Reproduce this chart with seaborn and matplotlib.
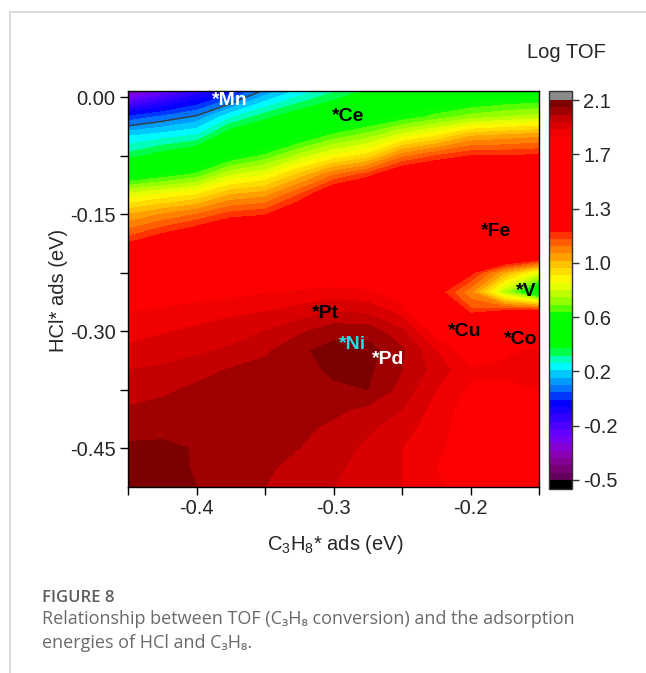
import numpy as np
import seaborn as sns
import matplotlib
matplotlib.use("Agg")
import matplotlib.pyplot as plt
from matplotlib.colors import LinearSegmentedColormap
from matplotlib.ticker import MultipleLocator, FormatStrFormatter
from matplotlib.lines import Line2D

# ---------------- data ----------------
c3h8_ads = [-0.45, -0.425, -0.40, -0.375, -0.35, -0.325, -0.30,
            -0.275, -0.25, -0.225, -0.20, -0.175, -0.15]
hcl_ads = [0.01, -0.025, -0.05, -0.075, -0.10, -0.125, -0.15, -0.175,
           -0.20, -0.225, -0.25, -0.275, -0.30, -0.325, -0.35, -0.375,
           -0.40, -0.425, -0.45, -0.475, -0.50]
log_tof = [
    [-0.35, -0.22, -0.10, 0.00, 0.15, 0.25, 0.33, 0.40, 0.45, 0.48, 0.50, 0.52, 0.53],
    [0.06, 0.11, 0.16, 0.29, 0.38, 0.45, 0.50, 0.56, 0.61, 0.67, 0.72, 0.75, 0.77],
    [0.25, 0.28, 0.31, 0.46, 0.50, 0.58, 0.67, 0.73, 0.83, 0.90, 1.00, 1.02, 1.04],
    [0.37, 0.43, 0.48, 0.59, 0.66, 0.77, 0.86, 0.92, 1.08, 1.15, 1.20, 1.20, 1.21],
    [0.57, 0.62, 0.67, 0.80, 0.85, 0.97, 1.10, 1.18, 1.30, 1.35, 1.38, 1.40, 1.40],
    [0.82, 0.86, 0.90, 1.00, 1.03, 1.15, 1.30, 1.35, 1.45, 1.45, 1.45, 1.45, 1.45],
    [1.00, 1.05, 1.10, 1.17, 1.19, 1.30, 1.42, 1.45, 1.50, 1.50, 1.50, 1.50, 1.50],
    [1.13, 1.20, 1.26, 1.33, 1.35, 1.45, 1.50, 1.52, 1.55, 1.55, 1.52, 1.50, 1.50],
    [1.28, 1.34, 1.40, 1.45, 1.50, 1.55, 1.58, 1.60, 1.60, 1.55, 1.50, 1.45, 1.40],
    [1.55, 1.60, 1.65, 1.68, 1.72, 1.75, 1.78, 1.78, 1.72, 1.50, 1.22, 1.00, 0.82],
    [1.80, 1.81, 1.82, 1.83, 1.845, 1.86, 1.87, 1.86, 1.80, 1.24, 1.06, 0.75, 0.48],
    [1.848, 1.86, 1.875, 1.89, 1.90, 1.92, 1.95, 1.94, 1.88, 1.60, 1.17, 1.22, 1.25],
    [1.88, 1.895, 1.91, 1.925, 1.95, 1.99, 2.03, 2.03, 1.96, 1.82, 1.50, 1.55, 1.60],
    [1.91, 1.925, 1.94, 1.96, 1.99, 2.04, 2.07, 2.07, 2.01, 1.90, 1.80, 1.84, 1.86],
    [1.95, 1.96, 1.98, 2.005, 2.02, 2.03, 2.06, 2.06, 2.00, 1.93, 1.86, 1.86, 1.87],
    [1.975, 1.99, 2.01, 2.02, 2.03, 2.03, 2.04, 2.05, 1.98, 1.90, 1.84, 1.84, 1.85],
    [2.005, 2.015, 2.02, 2.03, 2.03, 2.02, 2.01, 1.99, 1.95, 1.88, 1.82, 1.82, 1.82],
    [2.03, 2.03, 2.03, 2.03, 2.02, 2.01, 1.99, 1.96, 1.92, 1.87, 1.82, 1.80, 1.80],
    [2.06, 2.065, 2.045, 2.03, 2.02, 2.00, 1.97, 1.94, 1.90, 1.86, 1.82, 1.80, 1.78],
    [2.07, 2.07, 2.045, 2.03, 2.01, 1.98, 1.96, 1.93, 1.90, 1.85, 1.81, 1.79, 1.77],
    [2.08, 2.075, 2.05, 2.03, 2.00, 1.97, 1.95, 1.92, 1.90, 1.86, 1.82, 1.80, 1.78],
]

metals = ["*Mn", "*Ce", "*Fe", "*V", "*Pt", "*Ni", "*Pd", "*Cu", "*Co"]
metal_c3h8 = [-0.376, -0.289, -0.181, -0.159, -0.306, -0.286, -0.260, -0.204, -0.163]
metal_hcl = [-0.004, -0.025, -0.172, -0.249, -0.277, -0.317, -0.336, -0.301, -0.311]
metal_colors = ["white", "black", "black", "black", "black", "#22dde8", "white", "black", "black"]

cbar_labels = ["-0.5", "-0.2", "0.2", "0.6", "1.0", "1.3", "1.7", "2.1"]
vmin, vmax = -0.5, 2.1

# ---------------- style ----------------
sns.set_theme(style="ticks")
plt.rcParams["font.family"] = ["Liberation Sans", "DejaVu Sans"]
plt.rcParams["axes.unicode_minus"] = False
plt.rcParams["mathtext.fontset"] = "custom"
plt.rcParams["mathtext.rm"] = "Liberation Sans"
plt.rcParams["mathtext.it"] = "Liberation Sans:italic"
plt.rcParams["mathtext.bf"] = "Liberation Sans:bold"

nodes = [(-0.5, "#5a0050"), (-0.4, "#800080"), (-0.3, "#8c00c8"), (-0.2, "#7000ff"),
         (-0.07, "#3000ff"), (0.03, "#0000ff"), (0.12, "#0070ff"), (0.2, "#00b0ff"),
         (0.28, "#00ffff"), (0.35, "#00ff90"), (0.40, "#00ff00"), (0.62, "#00ff00"),
         (0.70, "#80ff00"), (0.80, "#d0ff00"), (0.86, "#ffff00"), (0.95, "#ffd000"),
         (1.05, "#ff9000"), (1.15, "#ff5000"), (1.22, "#ff0000"), (1.85, "#ff0000"),
         (1.875, "#f20000"), (1.925, "#dc0000"), (1.975, "#c40000"),
         (2.025, "#a00000"), (2.075, "#7e0000"), (2.1, "#700000")]
cmap = LinearSegmentedColormap.from_list(
    "origin_rainbow", [((v - vmin) / (vmax - vmin), c) for v, c in nodes], N=1024)
cmap.set_over("#8a8a8a")
cmap.set_under("#000000")

W, H = 646, 673
fig = plt.figure(figsize=(W / 100, H / 100), dpi=100)
fig.patch.set_facecolor("white")
ax = fig.add_axes([128 / W, 1 - 487 / H, 411 / W, 396 / H])
cax = fig.add_axes([549 / W, 1 - 489 / H, 23 / W, 398 / H])

X, Y = np.meshgrid(c3h8_ads, hcl_ads)
Z = np.array(log_tof)
levels = np.linspace(vmin, vmax, 53)
cs = ax.contourf(X, Y, Z, levels=levels, cmap=cmap, vmin=vmin, vmax=vmax, extend="both")
ax.contour(X, Y, Z, levels=[0.15], colors="#3a3a3a", linewidths=1.0)

for name, mx, my, col in zip(metals, metal_c3h8, metal_hcl, metal_colors):
    ax.text(mx, my, name, color=col, fontsize=14, fontweight="bold",
            ha="center", va="center")

ax.set_xlim(-0.45, -0.15)
ax.set_ylim(-0.50, 0.008)
ax.xaxis.set_major_locator(MultipleLocator(0.1))
ax.xaxis.set_minor_locator(MultipleLocator(0.05))
ax.yaxis.set_major_locator(MultipleLocator(0.15))
ax.yaxis.set_minor_locator(MultipleLocator(0.075))
ax.xaxis.set_major_formatter(FormatStrFormatter("%.1f"))
ax.yaxis.set_major_formatter(FormatStrFormatter("%.2f"))
ax.tick_params(axis="both", which="both", direction="out", length=6, width=1,
               color="black", labelsize=14.5, pad=3, top=False, right=False,
               bottom=True, left=True)
for s in ax.spines.values():
    s.set_color("black")
    s.set_linewidth(1.0)
ax.set_xlabel("")
ax.set_ylabel("")

fig.text(58 / W, 1 - 290 / H, "HCl* ads (eV)", rotation=90, ha="center", va="center",
         fontsize=14.5)
fig.text(335 / W, 1 - 545 / H, r"C$_3$H$_8$* ads (eV)", ha="center", va="center",
         fontsize=14.5)

cb = fig.colorbar(cs, cax=cax, extendrect=True, extendfrac=0.0237,
                  ticks=np.linspace(vmin, vmax, len(cbar_labels)))
cb.ax.set_yticklabels(cbar_labels)
cb.ax.tick_params(direction="out", length=5, width=1, labelsize=14.5, pad=3,
                  color="#333333", right=True, left=False)
cb.ax.minorticks_off()
cb.outline.set_edgecolor("#333333")
cb.outline.set_linewidth(1.0)
fig.text(566 / W, 1 - 52 / H, "Log TOF", ha="center", va="center", fontsize=14.5)

# caption and frame lines
fig.add_artist(Line2D([10 / W, 1.0], [1 - 12 / H, 1 - 12 / H], color="#d4d4d4", lw=1.2))
fig.add_artist(Line2D([10 / W, 10 / W], [1 - 12 / H, 0.0], color="#d4d4d4", lw=1.2))
cap_font = ["Open Sans", "Noto Sans", "DejaVu Sans"]
fig.text(42 / W, 1 - 598 / H, "FIGURE 8", ha="left", va="center", fontsize=12,
         fontweight="semibold", color="#5c5c5c", family=cap_font)
fig.text(42 / W, 1 - 619 / H,
         "Relationship between TOF (C\u2083H\u2088 conversion) and the adsorption",
         ha="left", va="center", fontsize=13, color="#6a6a6a", family=cap_font)
fig.text(42 / W, 1 - 643 / H, "energies of HCl and C\u2083H\u2088.",
         ha="left", va="center", fontsize=13, color="#6a6a6a", family=cap_font)

fig.savefig("out.png", dpi=100, facecolor="white")
